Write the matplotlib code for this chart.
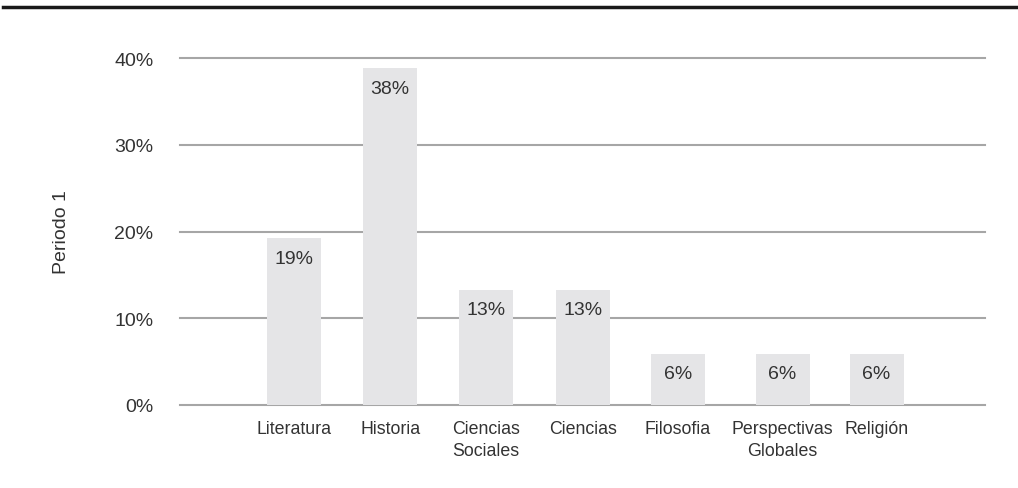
import matplotlib
matplotlib.use('Agg')
import matplotlib.pyplot as plt
from matplotlib.lines import Line2D

# 数据
categorias = ['Literatura', 'Historia', 'Ciencias\nSociales', 'Ciencias',
              'Filosofia', 'Perspectivas\nGlobales', 'Religión']
valores = [0.192, 0.388, 0.133, 0.133, 0.059, 0.059, 0.059]
etiquetas = ['19%', '38%', '13%', '13%', '6%', '6%', '6%']
y_ticks = [0.0, 0.1, 0.2, 0.3, 0.4]
y_ticklabels = ['0%', '10%', '20%', '30%', '40%']

# 布局（柱子中心位置）
posiciones = [0, 1, 2, 3.01, 4.0, 5.09, 6.07]

plt.rcParams['font.family'] = ['Liberation Sans', 'DejaVu Sans']
TEXT = '#333333'

fig = plt.figure(figsize=(10.18, 4.89), dpi=100)
ax = fig.add_axes([180 / 1018, 1 - 406 / 489, 805 / 1018, 347 / 489])

ax.bar(posiciones, valores, width=0.5625, color='#e5e5e7', zorder=2)
for y in y_ticks:
    ax.axhline(y, color='#a6a6a6', linewidth=1.5, zorder=1, clip_on=False)

for x, v, t in zip(posiciones, valores, etiquetas):
    ax.annotate(t, (x, v), xytext=(0, -8), textcoords='offset points',
                ha='center', va='top', fontsize=14, color=TEXT, zorder=3)

ax.set_xlim(-1.19, 7.2)
ax.set_ylim(0, 0.4)
ax.set_yticks(y_ticks)
ax.set_yticklabels(y_ticklabels, fontsize=14, color=TEXT)
ax.set_xticks(posiciones)
ax.set_xticklabels(categorias, fontsize=12.8, color=TEXT, linespacing=1.35)
ax.tick_params(axis='both', length=0)
ax.tick_params(axis='y', pad=19)
ax.tick_params(axis='x', pad=11)
for s in ax.spines.values():
    s.set_visible(False)

fig.text(61 / 1018, 1 - 232 / 489, 'Periodo 1', rotation=90, ha='center',
         va='center', fontsize=14, color=TEXT)

# 顶部黑线
fig.add_artist(Line2D([3 / 1018, 1], [1 - 7.5 / 489, 1 - 7.5 / 489],
                      color='#1a1a1a', linewidth=2.5, transform=fig.transFigure))

fig.savefig('out.png', dpi=100)
